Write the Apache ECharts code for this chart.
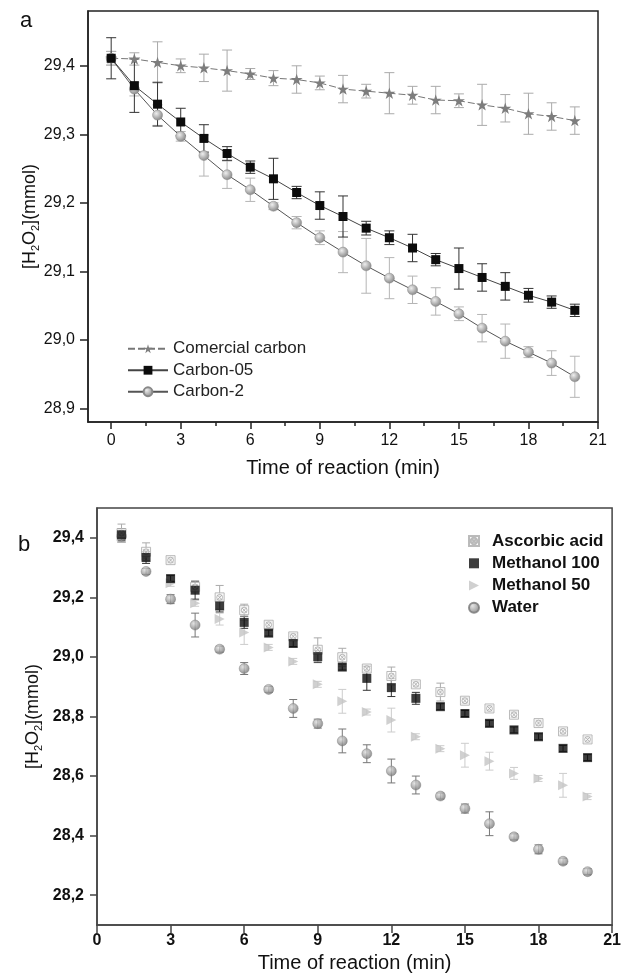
<!DOCTYPE html>
<html><head><meta charset="utf-8">
<script src="https://cdn.jsdelivr.net/npm/echarts@6/dist/echarts.min.js"></script>
<style>html,body{margin:0;padding:0;background:#fff}#c{width:624px;height:977px}</style>
</head><body><div id="c"></div>
<script>
// ---------- Data: panel a ----------
const timeA = [0,1,2,3,4,5,6,7,8,9,10,11,12,13,14,15,16,17,18,19,20];
const commercial = [29.411,29.410,29.405,29.400,29.397,29.393,29.388,29.382,29.380,29.375,29.366,29.363,29.360,29.357,29.350,29.349,29.343,29.338,29.330,29.326,29.320];
const commercialErr = [0.01,0.009,0.03,0.01,0.02,0.03,0.008,0.011,0.02,0.01,0.02,0.01,0.03,0.013,0.02,0.01,0.03,0.02,0.03,0.02,0.02];
const carbon05 = [29.411,29.371,29.344,29.318,29.294,29.272,29.252,29.235,29.215,29.196,29.180,29.163,29.149,29.134,29.117,29.104,29.091,29.078,29.065,29.055,29.043];
const carbon05Err = [0.03,0.039,0.032,0.02,0.02,0.01,0.009,0.03,0.009,0.02,0.03,0.01,0.01,0.02,0.009,0.03,0.02,0.02,0.01,0.009,0.009];
const carbon2 = [29.411,29.366,29.328,29.297,29.269,29.241,29.219,29.195,29.171,29.149,29.128,29.108,29.090,29.073,29.056,29.038,29.017,28.998,28.982,28.966,28.946];
const carbon2Err = [0.01,0.01,0.015,0.007,0.03,0.02,0.017,0.005,0.009,0.01,0.03,0.04,0.03,0.02,0.02,0.01,0.02,0.025,0.008,0.018,0.03];
const xTicksA = [0,3,6,9,12,15,18,21];
const xMinorA = [1.5,4.5,7.5,10.5,13.5,16.5,19.5];
const yTicksA = [28.9,29.0,29.1,29.2,29.3,29.4];

// ---------- Data: panel b ----------
const timeB = [1,2,3,4,5,6,7,8,9,10,11,12,13,14,15,16,17,18,19,20];
const ascorbic = [29.416,29.353,29.325,29.235,29.200,29.157,29.108,29.069,29.024,28.999,28.961,28.936,28.908,28.882,28.853,28.827,28.806,28.778,28.750,28.723];
const ascorbicErr = [0.03,0.03,0.01,0.02,0.04,0.02,0.01,0.01,0.04,0.03,0.01,0.03,0.01,0.03,0.01,0.01,0.01,0.01,0.01,0.01];
const methanol100 = [29.410,29.334,29.263,29.224,29.171,29.116,29.080,29.045,29.001,28.966,28.928,28.897,28.861,28.833,28.810,28.777,28.755,28.732,28.693,28.662];
const methanol100Err = [0.02,0.02,0.01,0.03,0.02,0.02,0.01,0.01,0.02,0.01,0.04,0.03,0.02,0.01,0.01,0.01,0.01,0.01,0.01,0.01];
const methanol50 = [29.405,29.340,29.247,29.180,29.127,29.082,29.032,28.985,28.908,28.851,28.815,28.788,28.732,28.692,28.670,28.650,28.609,28.592,28.569,28.531];
const methanol50Err = [0.02,0.02,0.01,0.01,0.02,0.04,0.01,0.01,0.01,0.04,0.01,0.04,0.01,0.01,0.04,0.03,0.02,0.01,0.04,0.01];
const water = [29.405,29.287,29.194,29.107,29.026,28.961,28.891,28.827,28.776,28.718,28.675,28.617,28.570,28.533,28.491,28.440,28.396,28.354,28.314,28.279];
const waterErr = [0.02,0.01,0.015,0.04,0.01,0.02,0.01,0.03,0.015,0.04,0.03,0.04,0.03,0.01,0.015,0.04,0.01,0.015,0.01,0.01];
const xTicksB = [0,3,6,9,12,15,18,21];
const yTicksB = [28.2,28.4,28.6,28.8,29.0,29.2,29.4];

// ---------- helpers ----------
const FONT = "'Liberation Sans', Arial, sans-serif";
const pts = (xs, ys) => xs.map((x, i) => [x, ys[i]]);
const errPts = (xs, ys, es) => xs.map((x, i) => [x, ys[i] - es[i], ys[i] + es[i]]);
const fmtY = v => Number(v).toFixed(1).replace('.', ',');
const STAR = 'path://M50,2 L61,36 L97,36 L68,57 L79,92 L50,71 L21,92 L32,57 L3,36 L39,36 Z';
const XCIRC = 'path://M4,4 L96,4 L96,96 L4,96 Z M50,20 A30,30 0 1,1 49.9,20 Z M26,26 L74,74 M74,26 L26,74';
const TRI_R = 'path://M0,0 L100,50 L0,100 Z';
const sphere = (hi, lo) => ({type:'radial', x:0.38, y:0.35, r:0.75, colorStops:[{offset:0,color:hi},{offset:1,color:lo}]});

function errSeries(xi, yi, data, color, capW) {
  return {
    type:'custom', xAxisIndex:xi, yAxisIndex:yi, z:1, silent:true,
    data:data,
    renderItem:function(params, api){
      const x = api.value(0);
      const lo = api.coord([x, api.value(1)]);
      const hi = api.coord([x, api.value(2)]);
      const st = {stroke:color, lineWidth:1};
      return {type:'group', children:[
        {type:'line', shape:{x1:lo[0], y1:lo[1], x2:hi[0], y2:hi[1]}, style:st},
        {type:'line', shape:{x1:lo[0]-capW, y1:lo[1], x2:lo[0]+capW, y2:lo[1]}, style:st},
        {type:'line', shape:{x1:hi[0]-capW, y1:hi[1], x2:hi[0]+capW, y2:hi[1]}, style:st}
      ]};
    }
  };
}

const axisCol = '#222';
const yName = '[H{s|2}O{s|2}](mmol)';
const yNameStyle = {fontFamily:FONT, fontSize:18, color:'#111', lineHeight:22,
  rich:{s:{fontFamily:FONT, fontSize:11, color:'#111', lineHeight:22, verticalAlign:'bottom', padding:[8,0,0,0]}}};

const chart = echarts.init(document.getElementById('c'), null, {renderer:'canvas'});
chart.setOption({
  animation:false,
  backgroundColor:'#fff',
  textStyle:{fontFamily:FONT},
  grid:[
    {left:88, top:11, width:510, height:411, show:true, borderColor:axisCol, borderWidth:1.5, containLabel:false},
    {left:97, top:508, width:517, height:417, show:true, borderColor:'#444', borderWidth:1.5, containLabel:false}
  ],
  xAxis:[
    {gridIndex:0, type:'value', min:-1, max:21, position:'bottom',
     name:'Time of reaction (min)', nameLocation:'middle', nameGap:36,
     nameTextStyle:{fontFamily:FONT, fontSize:20, color:'#111'},
     axisLine:{show:true, onZero:false, lineStyle:{color:axisCol, width:1.5}},
     axisTick:{show:true, inside:false, length:7, customValues:xTicksA, lineStyle:{color:axisCol, width:1.5}},
     axisLabel:{customValues:xTicksA, margin:11, fontSize:16, color:'#111', fontFamily:FONT},
     splitLine:{show:false}},
    {gridIndex:0, type:'value', min:-1, max:21, position:'bottom',
     axisLine:{show:false, onZero:false},
     axisTick:{show:true, inside:false, length:4, customValues:xMinorA, lineStyle:{color:axisCol, width:1.5}},
     axisLabel:{show:false}, splitLine:{show:false}},
    {gridIndex:1, type:'value', min:0, max:21, position:'bottom',
     name:'Time of reaction (min)', nameLocation:'middle', nameGap:28,
     nameTextStyle:{fontFamily:FONT, fontSize:20, color:'#111'},
     axisLine:{show:true, onZero:false, lineStyle:{color:'#444', width:1.5}},
     axisTick:{show:true, inside:false, length:8, customValues:xTicksB, lineStyle:{color:'#444', width:1.5}},
     axisLabel:{customValues:xTicksB, margin:8, fontSize:16, fontWeight:'bold', color:'#111', fontFamily:FONT},
     splitLine:{show:false}}
  ],
  yAxis:[
    {gridIndex:0, type:'value', min:28.88, max:29.48, position:'left',
     name:yName, nameLocation:'middle', nameRotate:90, nameGap:47, nameMoveOverlap:false, nameTextStyle:yNameStyle,
     axisLine:{show:true, onZero:false, lineStyle:{color:axisCol, width:1.5}},
     axisTick:{show:true, inside:false, length:8, customValues:yTicksA, lineStyle:{color:axisCol, width:1.5}},
     axisLabel:{customValues:yTicksA, formatter:fmtY, margin:13, fontSize:16, color:'#111', fontFamily:FONT},
     splitLine:{show:false}},
    {gridIndex:1, type:'value', min:28.1, max:29.5, position:'left',
     name:yName, nameLocation:'middle', nameRotate:90, nameGap:53, nameMoveOverlap:false, nameTextStyle:yNameStyle,
     axisLine:{show:true, onZero:false, lineStyle:{color:'#444', width:1.5}},
     axisTick:{show:true, inside:false, length:7, customValues:yTicksB, lineStyle:{color:'#444', width:1.5}},
     axisLabel:{customValues:yTicksB, formatter:fmtY, margin:13, fontSize:16, fontWeight:'bold', color:'#111', fontFamily:FONT},
     splitLine:{show:false}}
  ],
  legend:[
    {orient:'vertical', left:122, top:333, itemWidth:40, itemHeight:11, itemGap:0,
     textStyle:{fontFamily:FONT, fontSize:17, color:'#222', lineHeight:21.5},
     data:['Comercial carbon','Carbon-05','Carbon-2']},
    {orient:'vertical', left:463, top:525, itemWidth:10, itemHeight:10, itemGap:0,
     textStyle:{fontFamily:FONT, fontSize:17, fontWeight:'bold', color:'#111', lineHeight:22.2, padding:[0,0,0,8]},
     data:['Ascorbic acid','Methanol 100','Methanol 50','Water']}
  ],
  graphic:[
    {type:'text', left:20, top:10, style:{text:'a', fontFamily:FONT, fontSize:22, fill:'#111'}},
    {type:'text', left:18, top:534, style:{text:'b', fontFamily:FONT, fontSize:22, fill:'#111'}}
  ],
  series:[
    errSeries(0,0, errPts(timeA, commercial, commercialErr), '#aaa', 5),
    errSeries(0,0, errPts(timeA, carbon2, carbon2Err), '#b5b5b5', 5),
    errSeries(0,0, errPts(timeA, carbon05, carbon05Err), '#333', 5),
    {name:'Comercial carbon', type:'line', xAxisIndex:0, yAxisIndex:0, z:3,
     data:pts(timeA, commercial), symbol:STAR, symbolSize:12, symbolKeepAspect:true,
     itemStyle:{color:'#7d7d7d'}, lineStyle:{color:'#777', width:1, type:[7,3]}},
    {name:'Carbon-2', type:'line', xAxisIndex:0, yAxisIndex:0, z:3,
     data:pts(timeA, carbon2), symbol:'circle', symbolSize:10,
     itemStyle:{color:sphere('#eeeeee','#7a7a7a'), borderColor:'#888', borderWidth:0.5},
     lineStyle:{color:'#555', width:1}},
    {name:'Carbon-05', type:'line', xAxisIndex:0, yAxisIndex:0, z:4,
     data:pts(timeA, carbon05), symbol:'rect', symbolSize:9, symbolKeepAspect:true,
     itemStyle:{color:'#0c0c0c'}, lineStyle:{color:'#444', width:1}},

    errSeries(2,1, errPts(timeB, water, waterErr), '#777', 4),
    errSeries(2,1, errPts(timeB, methanol50, methanol50Err), '#ccc', 4),
    errSeries(2,1, errPts(timeB, methanol100, methanol100Err), '#333', 4),
    errSeries(2,1, errPts(timeB, ascorbic, ascorbicErr), '#aaa', 4),
    {name:'Water', type:'scatter', xAxisIndex:2, yAxisIndex:1, z:3,
     data:pts(timeB, water), symbol:'circle', symbolSize:10, symbolKeepAspect:true,
     itemStyle:{color:sphere('#dddddd','#666666'), borderColor:'#777', borderWidth:0.5}},
    {name:'Methanol 50', type:'scatter', xAxisIndex:2, yAxisIndex:1, z:3,
     data:pts(timeB, methanol50), symbol:TRI_R, symbolSize:10, symbolKeepAspect:true,
     itemStyle:{color:'#c4c4c4'}},
    {name:'Ascorbic acid', type:'scatter', xAxisIndex:2, yAxisIndex:1, z:3,
     data:pts(timeB, ascorbic), symbol:XCIRC, symbolSize:9, symbolKeepAspect:true,
     itemStyle:{color:'#fafafa', borderColor:'#aaa', borderWidth:1}},
    {name:'Methanol 100', type:'scatter', xAxisIndex:2, yAxisIndex:1, z:4,
     data:pts(timeB, methanol100), symbol:'rect', symbolSize:9, symbolKeepAspect:true,
     itemStyle:{color:'#0c0c0c'}}
  ]
});
</script>
</body></html>
